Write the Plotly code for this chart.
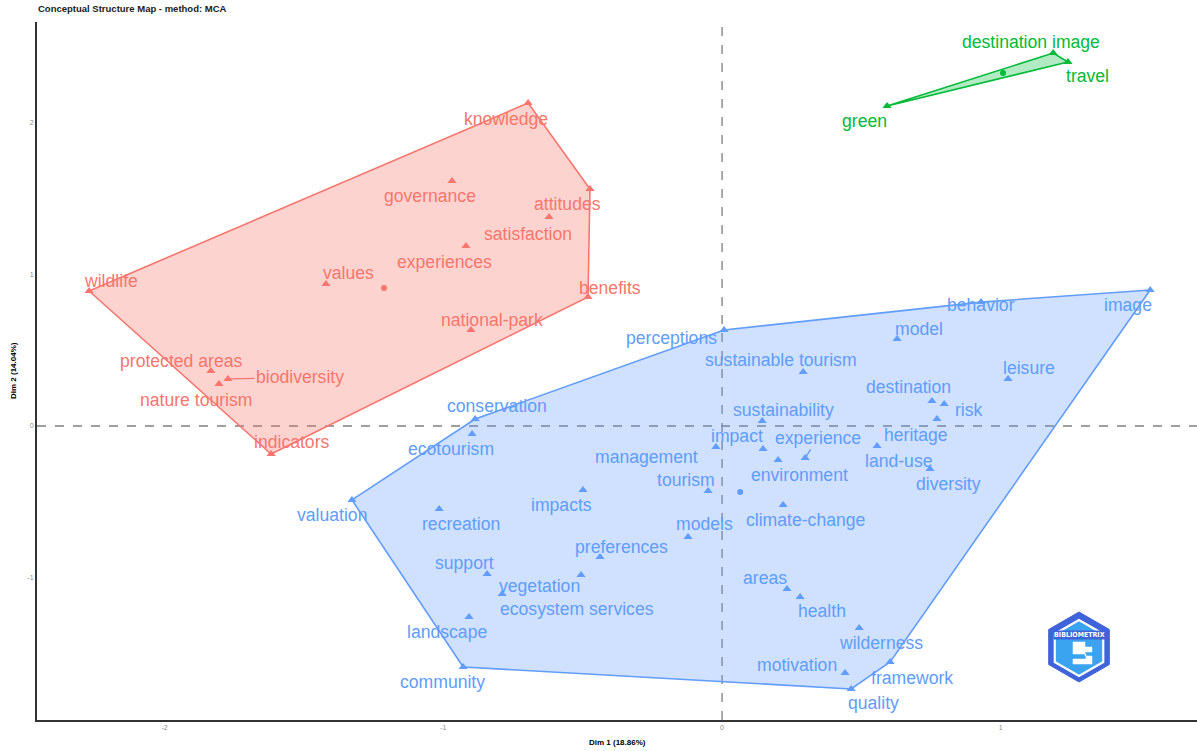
import math
import plotly.graph_objects as go

# ---------------- data ----------------
red_words = ["knowledge", "attitudes", "benefits", "indicators", "wildlife", "governance",
             "satisfaction", "experiences", "values", "national-park", "protected areas",
             "biodiversity", "nature tourism"]
red_x = [-0.696, -0.474, -0.481, -1.618, -2.271, -0.969, -0.621, -0.919, -1.421, -0.901,
         -1.834, -1.773, -1.805]
red_y = [2.132, 1.564, 0.851, -0.185, 0.891, 1.617, 1.380, 1.188, 0.937, 0.634,
         0.363, 0.310, 0.277]
red_centroid = (-1.213, 0.911)

green_words = ["destination image", "travel", "green"]
green_x = [1.188, 1.241, 0.592]
green_y = [2.462, 2.403, 2.112]
green_centroid = (1.008, 2.330)

blue_words = ["image", "behavior", "model", "sustainable tourism", "leisure", "destination",
              "risk", "heritage", "perceptions", "conservation", "sustainability",
              "management", "impact", "environment", "experience", "land-use", "diversity",
              "tourism", "climate-change", "models", "ecotourism", "valuation", "recreation",
              "impacts", "preferences", "support", "vegetation", "ecosystem services",
              "landscape", "community", "areas", "health", "wilderness", "motivation",
              "framework", "quality"]
blue_x = [1.536, 0.929, 0.628, 0.291, 1.026, 0.753, 0.797, 0.771, 0.007, -0.886, 0.144,
          -0.022, 0.147, 0.201, 0.298, 0.556, 0.746, -0.050, 0.219, -0.122, -0.897, -1.328,
          -1.015, -0.499, -0.438, -0.843, -0.789, -0.506, -0.908, -0.929, 0.233, 0.280,
          0.492, 0.441, 0.603, 0.463]
blue_y = [0.898, 0.818, 0.574, 0.356, 0.310, 0.165, 0.145, 0.046, 0.634, 0.046, 0.033,
          -0.139, -0.152, -0.224, -0.211, -0.132, -0.284, -0.429, -0.521, -0.733, -0.053,
          -0.488, -0.548, -0.422, -0.865, -0.977, -1.109, -0.983, -1.261, -1.591, -1.076,
          -1.129, -1.333, -1.630, -1.558, -1.736]
blue_centroid = (0.065, -0.436)

x_ticks = [-2, -1, 0, 1]
y_ticks = [-1, 0, 1, 2]
title_text = "Conceptual Structure Map - method: MCA"
x_title = "Dim 1 (18.86%)"
y_title = "Dim 2 (14.04%)"

# ---------------- layout / style ----------------
W, H = 1197, 751
ML, MR, MT, MB = 37, 0, 22, 31
X_RANGE = [-2.458, 1.704]
Y_RANGE = [-1.941, 2.667]
LABEL_SIZE = 17.6

# label offsets in pixels (dx right, dy up); entries with a 3rd True get a connector segment
LABEL_OFFSET = {
    "knowledge": (-22, -16), "attitudes": (-22, -15), "benefits": (22, 9),
    "indicators": (21, 12), "wildlife": (22, 10), "governance": (-22, -15),
    "satisfaction": (-21, -17), "experiences": (-21, -16), "values": (22, 11),
    "national-park": (21, 10), "protected areas": (-30, 10), "biodiversity": (72, 2, True),
    "nature tourism": (-23, -16),
    "destination image": (-22, 11), "travel": (20, -14), "green": (-23, -15),
    "image": (-22, -15), "behavior": (0, -3), "model": (22, 10),
    "sustainable tourism": (-22, 12), "leisure": (21, 11), "destination": (-23, 14),
    "risk": (25, -6), "heritage": (-21, -16), "perceptions": (-53, -8),
    "conservation": (22, 13), "sustainability": (21, 11), "management": (-69, -10),
    "impact": (-26, 13), "environment": (21, -15), "experience": (13, 20, True),
    "land-use": (22, -15), "diversity": (19, -15), "tourism": (-22, 11),
    "climate-change": (22, -15), "models": (16, 13), "ecotourism": (-21, -15),
    "valuation": (-20, -15), "recreation": (22, -15), "impacts": (-22, -15),
    "preferences": (21, 10), "support": (-23, 11), "vegetation": (37, 8),
    "ecosystem services": (-4, -34), "landscape": (-22, -15), "community": (-21, -15),
    "areas": (-22, 11), "health": (22, -14), "wilderness": (22, -15),
    "motivation": (-48, 8), "framework": (22, -16), "quality": (22, -14),
}

RED, GREEN, BLUE = "#F8766D", "#00BA38", "#619CFF"
FILLS = {RED: "rgba(248,118,109,0.32)", GREEN: "rgba(0,186,56,0.30)",
         BLUE: "rgba(97,156,255,0.30)"}
FONT = "Liberation Sans, Arial, sans-serif"


def convex_hull(xs, ys):
    pts = sorted(set(zip(xs, ys)))
    if len(pts) <= 2:
        return pts

    def cross(o, a, b):
        return (a[0] - o[0]) * (b[1] - o[1]) - (a[1] - o[1]) * (b[0] - o[0])

    lower, upper = [], []
    for p in pts:
        while len(lower) >= 2 and cross(lower[-2], lower[-1], p) <= 0:
            lower.pop()
        lower.append(p)
    for p in reversed(pts):
        while len(upper) >= 2 and cross(upper[-2], upper[-1], p) <= 0:
            upper.pop()
        upper.append(p)
    return lower[:-1] + upper[:-1]


fig = go.Figure()
annotations = []

clusters = [
    (red_words, red_x, red_y, red_centroid, RED),
    (green_words, green_x, green_y, green_centroid, GREEN),
    (blue_words, blue_x, blue_y, blue_centroid, BLUE),
]

for words, xs, ys, cen, col in clusters:
    hull = convex_hull(xs, ys)
    hx = [p[0] for p in hull] + [hull[0][0]]
    hy = [p[1] for p in hull] + [hull[0][1]]
    fig.add_trace(go.Scatter(x=hx, y=hy, mode="lines", fill="toself",
                             fillcolor=FILLS[col], line=dict(color=col, width=1.6),
                             hoverinfo="skip", showlegend=False))
    fig.add_trace(go.Scatter(x=xs, y=ys, mode="markers",
                             marker=dict(symbol="triangle-up", size=8, color=col),
                             text=words, hoverinfo="text", showlegend=False))
    fig.add_trace(go.Scatter(x=[cen[0]], y=[cen[1]], mode="markers",
                             marker=dict(symbol="circle", size=6, color=col),
                             hoverinfo="skip", showlegend=False))
    for w, x, y in zip(words, xs, ys):
        off = LABEL_OFFSET.get(w, (0, 12))
        if len(off) == 3:
            annotations.append(dict(x=x, y=y, xref="x", yref="y", text=w,
                                    showarrow=True, arrowhead=0, arrowwidth=1.3,
                                    arrowcolor=col, ax=off[0], ay=-off[1], standoff=2,
                                    font=dict(family=FONT, size=LABEL_SIZE, color=col)))
        else:
            annotations.append(dict(x=x, y=y, xref="x", yref="y", text=w,
                                    showarrow=False, xshift=off[0], yshift=off[1],
                                    xanchor="center", yanchor="middle",
                                    font=dict(family=FONT, size=LABEL_SIZE, color=col)))

PW = W - ML - MR
PH = H - MT - MB


def px2paper(px, py):
    return (px - ML) / PW, (H - MB - py) / PH


# title and axis titles
tx, ty = px2paper(36, 9)
annotations.append(dict(x=tx, y=ty, xref="paper", yref="paper", xanchor="left",
                        yanchor="middle", text="<b>" + title_text + "</b>",
                        showarrow=False, font=dict(family=FONT, size=9.5, color="#1a1a1a")))
ax_x, ax_y = px2paper(617, 742)
annotations.append(dict(x=ax_x, y=ax_y, xref="paper", yref="paper", xanchor="center",
                        yanchor="middle", text="<b>" + x_title + "</b>",
                        showarrow=False, font=dict(family=FONT, size=8, color="black")))
ay_x, ay_y = px2paper(13, 371)
annotations.append(dict(x=ay_x, y=ay_y, xref="paper", yref="paper", xanchor="center",
                        yanchor="middle", text="<b>" + y_title + "</b>", textangle=-90,
                        showarrow=False, font=dict(family=FONT, size=8, color="black")))


# ---------------- logo (Bibliometrix style hexagon) ----------------
def hexagon(cx, cy, r):
    pts = []
    for k in range(6):
        a = math.radians(90 + 60 * k)
        pts.append(px2paper(cx + r * math.cos(a), cy - r * math.sin(a)))
    return "M " + " L ".join(f"{x:.5f},{y:.5f}" for x, y in pts) + " Z"


def poly(points):
    pp = [px2paper(a, b) for a, b in points]
    return "M " + " L ".join(f"{x:.5f},{y:.5f}" for x, y in pp) + " Z"


shapes = [
    dict(type="line", xref="x", yref="paper", x0=0, x1=0, y0=0, y1=1,
         line=dict(color="#7f7f7f", width=1.3, dash="dash"), layer="below"),
    dict(type="line", xref="paper", yref="y", x0=0, x1=1, y0=0, y1=0,
         line=dict(color="#7f7f7f", width=1.3, dash="dash"), layer="below"),
    dict(type="path", xref="paper", yref="paper", path=hexagon(1079, 647, 35),
         fillcolor="#3f63d8", line=dict(color="#3f63d8", width=1)),
    dict(type="path", xref="paper", yref="paper", path=hexagon(1079, 648, 28),
         fillcolor="#3aa4f0", line=dict(color="white", width=2.2)),
    # stylised building / stair in the middle
    dict(type="path", xref="paper", yref="paper",
         path=poly([(1073, 642), (1085, 642), (1085, 647), (1092, 647), (1092, 652),
                    (1085, 652), (1085, 656), (1092, 656), (1092, 664), (1073, 664),
                    (1073, 659), (1086, 659), (1086, 654), (1073, 654)]),
         fillcolor="white", line=dict(color="white", width=0.5)),
]
lx, ly = px2paper(1079, 635)
annotations.append(dict(x=lx, y=ly, xref="paper", yref="paper", text="<b>BIBLIOMETRIX</b>",
                        xanchor="center", yanchor="middle",
                        showarrow=False, bgcolor="#3f63d8", borderpad=0,
                        font=dict(family="DejaVu Sans Condensed, sans-serif", size=7,
                                  color="white")))

fig.update_layout(
    width=W, height=H,
    margin=dict(l=ML, r=MR, t=MT, b=MB, autoexpand=False),
    paper_bgcolor="white", plot_bgcolor="white",
    annotations=annotations, shapes=shapes,
    xaxis=dict(range=X_RANGE, tickvals=x_ticks, ticktext=[str(v) for v in x_ticks],
               showgrid=False, zeroline=False, showline=True, linecolor="#333333",
               linewidth=2, ticks="", automargin=False,
               tickfont=dict(family=FONT, size=7, color="#8a8a8a")),
    yaxis=dict(range=Y_RANGE, tickvals=y_ticks, ticktext=[str(v) for v in y_ticks],
               showgrid=False, zeroline=False, showline=True, linecolor="#333333",
               linewidth=2, ticks="", automargin=False,
               tickfont=dict(family=FONT, size=7, color="#8a8a8a")),
)

fig.write_html("out.html", config={"displayModeBar": False},
               post_script="document.body.style.margin='0';document.body.style.overflow='hidden';")
